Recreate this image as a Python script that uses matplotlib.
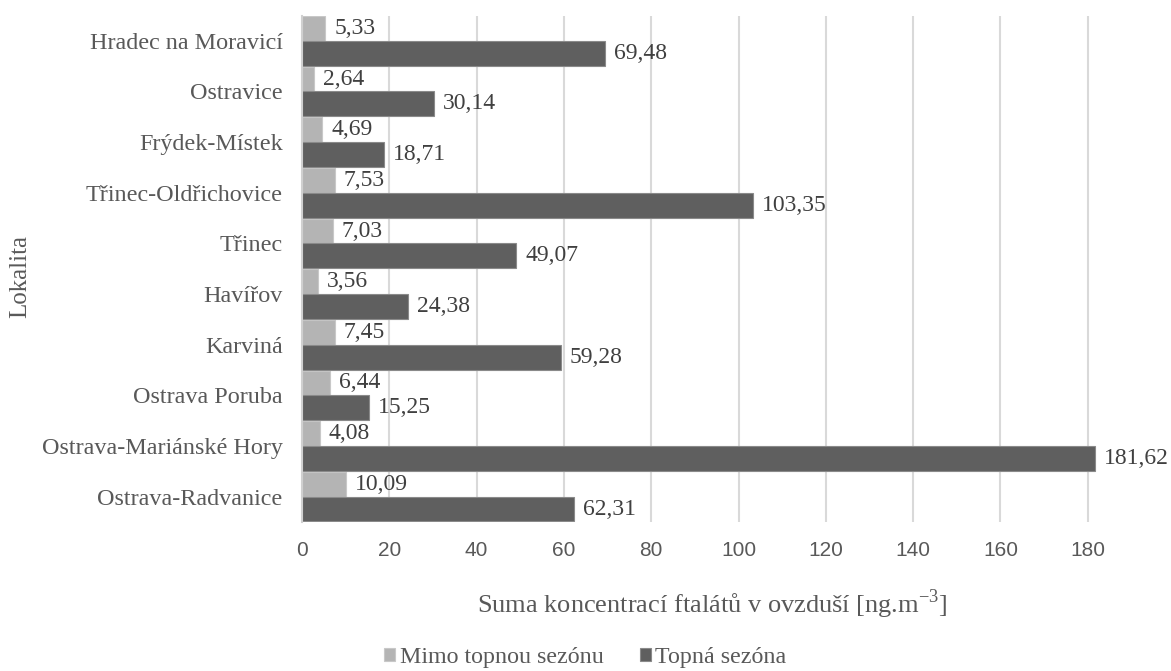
import matplotlib.pyplot as plt
import numpy as np

# lokality shora dolů, jak jsou v grafu
lokality = ["Hradec na Moravicí", "Ostravice", "Frýdek-Místek", "Třinec-Oldřichovice",
            "Třinec", "Havířov", "Karviná", "Ostrava Poruba",
            "Ostrava-Mariánské Hory", "Ostrava-Radvanice"]
mimo_sezonu = [5.33, 2.64, 4.69, 7.53, 7.03, 3.56, 7.45, 6.44, 4.08, 10.09]
topna_sezona = [69.48, 30.14, 18.71, 103.35, 49.07, 24.38, 59.28, 15.25, 181.62, 62.31]
x_ticks = [0, 20, 40, 60, 80, 100, 120, 140, 160, 180]

SERIF = ["Liberation Serif", "DejaVu Serif"]
SANS = ["Liberation Sans", "DejaVu Sans"]
TEXT_COLOR = "#595959"
LIGHT = "#b4b4b4"
DARK = "#5f5f5f"

fig = plt.figure(figsize=(11.71, 6.71), dpi=100)
# plocha grafu přesahuje vpravo (původní obrázek byl oříznut)
ax = fig.add_axes([302 / 1171, 1 - 522 / 671, 873 / 1171, 506.5 / 671])

y = np.arange(len(lokality))
h = 0.49
bars_light = ax.barh(y - h / 2, mimo_sezonu, height=h, color=LIGHT,
                     edgecolor="#c8c8c8", linewidth=0.8, zorder=2)
bars_dark = ax.barh(y + h / 2, topna_sezona, height=h, color=DARK,
                    edgecolor="#8a8a8a", linewidth=0.8, zorder=2)

# popisky hodnot s desetinnou čárkou
for bars, vals in ((bars_light, mimo_sezonu), (bars_dark, topna_sezona)):
    for b, v in zip(bars, vals):
        ax.annotate(f"{v:.2f}".replace(".", ","),
                    xy=(b.get_width(), b.get_y() + b.get_height() / 2),
                    xytext=(9, 0), textcoords="offset pixels",
                    ha="left", va="center", fontsize=17, family=SERIF,
                    color="#404040", zorder=4, annotation_clip=False)

ax.set_xlim(0, 200)
ax.set_ylim(len(lokality) - 0.5, -0.5)
ax.set_xticks(x_ticks)
ax.set_xticklabels([str(t) for t in x_ticks], family=SANS, fontsize=15, color=TEXT_COLOR)
ax.set_yticks(y)
ax.set_yticklabels(lokality, family=SERIF, fontsize=17.4, color=TEXT_COLOR)
ax.tick_params(axis="x", length=0, pad=14)
ax.tick_params(axis="y", length=0, pad=14)

ax.grid(axis="x", color="#d9d9d9", linewidth=1.5, zorder=0)
ax.set_axisbelow(True)
for s in ("top", "right", "bottom"):
    ax.spines[s].set_visible(False)
ax.spines["left"].set_color("#d0d0d0")
ax.spines["left"].set_linewidth(1.5)

fig.text(712 / 1171, 1 - 604 / 671,
         "Suma koncentrací ftalátů v ovzduší [ng.m$^{\\mathregular{-3}}$]",
         ha="center", va="center", fontsize=19, family=SERIF, color=TEXT_COLOR)
fig.text(20 / 1171, 1 - 277 / 671, "Lokalita", rotation=90,
         ha="center", va="center", fontsize=18, family=SERIF, color=TEXT_COLOR)

leg = fig.legend([bars_light, bars_dark], ["Mimo topnou sezónu", "Topná sezóna"],
                 loc="center", bbox_to_anchor=(0.5, 1 - 658 / 671), ncol=2,
                 frameon=False, prop={"family": SERIF, "size": 17.3},
                 handlelength=0.45, handleheight=0.45, handletextpad=0.2,
                 columnspacing=1.5, borderaxespad=0)
for t in leg.get_texts():
    t.set_color(TEXT_COLOR)

fig.savefig("out.png", dpi=100)
